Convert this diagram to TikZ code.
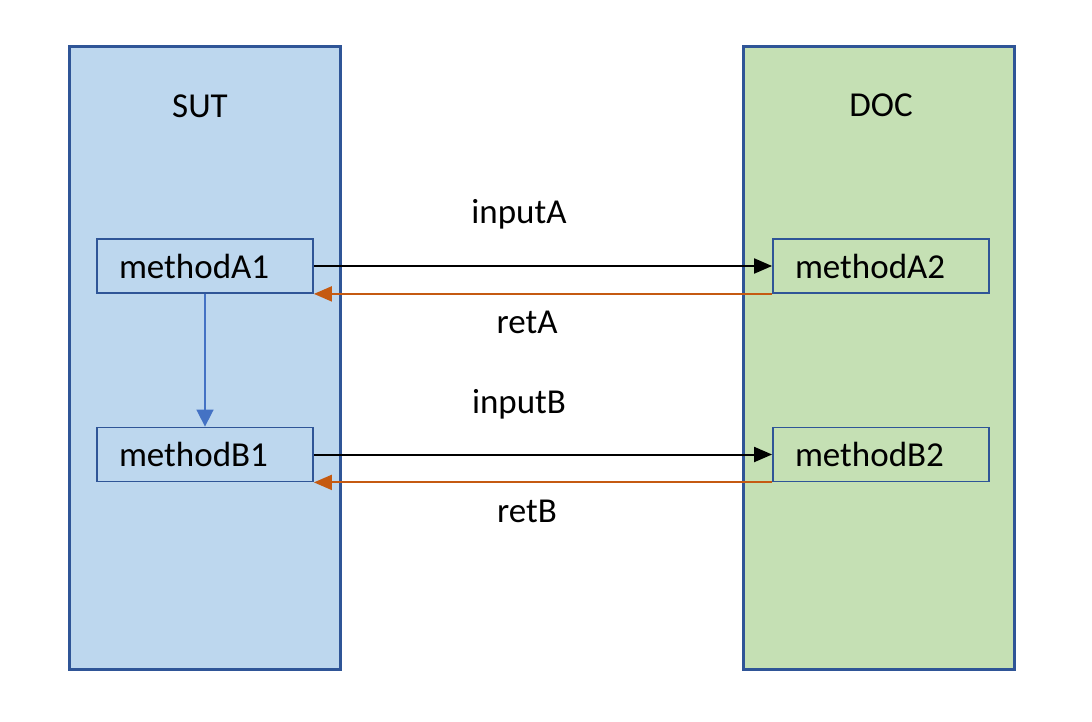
\documentclass[tikz,border=0pt]{standalone}
\usepackage{fontspec}
\setmainfont{Carlito}
\usetikzlibrary{arrows.meta}
\definecolor{sutfill}{HTML}{BDD7EE}
\definecolor{docfill}{HTML}{C5E0B4}
\definecolor{frame}{HTML}{2F5597}
\definecolor{retcol}{HTML}{C55A11}
\definecolor{flowcol}{HTML}{4472C4}
\tikzset{
  x=1pt, y=-1pt,
  bigbox/.style={draw=frame, line width=3pt, minimum width=271pt, minimum height=622pt, inner sep=0pt},
  methbox/.style={draw=frame, line width=1.8pt, minimum width=216pt, minimum height=54pt,
    inner xsep=22pt, inner ysep=0pt, text width=172pt, align=left,
    font=\fontsize{35}{42}\selectfont},
  lbl/.style={anchor=base, inner sep=0pt, font=\fontsize{35}{42}\selectfont},
  callarrow/.style={draw=black, line width=2pt, -{Triangle[length=18pt,width=15pt]}},
  retarrow/.style={draw=retcol, line width=2pt, -{Triangle[length=18pt,width=15pt]}},
  flowarrow/.style={draw=flowcol, line width=1.6pt, -{Triangle[length=17pt,width=17pt]}}
}
\begin{document}
\begin{tikzpicture}
\useasboundingbox (0,0) rectangle (1092,722);
\fill[white] (0,0) rectangle (1092,722);
\node[bigbox, fill=sutfill] (sut) at (204.5,358) {};
\node[bigbox, fill=docfill] (doc) at (879,358) {};
\node[lbl] (sutlbl) at (200,118) {SUT};
\node[lbl] (doclbl) at (881,117) {DOC};
\node[methbox] (mA1) at (205,266) {methodA1};
\node[methbox] (mB1) at (205,454.5) {methodB1};
\node[methbox] (mA2) at (881,266) {methodA2};
\node[methbox] (mB2) at (881,454.5) {methodB2};
\node[lbl] (inA) at (519,223) {inputA};
\node[lbl] (rA) at (527,333) {retA};
\node[lbl] (inB) at (519,413) {inputB};
\node[lbl] (rB) at (527,522) {retB};
\draw[callarrow] (mA1.east) -- (mA2.west);
\draw[retarrow] (mA2.south west) -- (mA1.south east);
\draw[callarrow] (mB1.east) -- (mB2.west);
\draw[retarrow] (mB2.south west) -- (mB1.south east);
\draw[flowarrow] (mA1.south) -- (mB1.north);
\end{tikzpicture}
\end{document}
